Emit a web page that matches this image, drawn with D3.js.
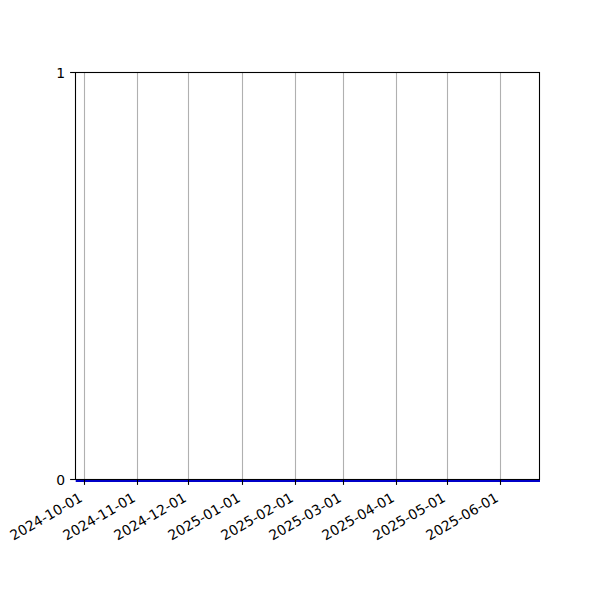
<!DOCTYPE html>
<html><head><meta charset="utf-8">
<script src="https://cdn.jsdelivr.net/npm/d3@7"></script>
<style>body{margin:0;background:#fff}svg{display:block}text{font-family:"DejaVu Sans",sans-serif}</style>
</head><body>
<svg id="c" width="600" height="600"></svg>
<script>
// data
const dates = ["2024-09-26", "2025-06-24"];
const values = [0, 0];
const xTickLabels = ["2024-10-01","2024-11-01","2024-12-01","2025-01-01","2025-02-01","2025-03-01","2025-04-01","2025-05-01","2025-06-01"];
const yTicks = [0, 1];

const parse = d3.utcParse("%Y-%m-%d");
const svg = d3.select("#c");
const L = 75, R = 540, T = 72, B = 480;
const x = d3.scaleUtc().domain([new Date(Date.UTC(2024, 8, 25, 14)), new Date(Date.UTC(2025, 5, 23, 18))]).range([L, R]);
const y = d3.scaleLinear().domain([0, 1]).range([B, T]);
const fs = 13.9;

// grid
svg.append("g").selectAll("line").data(xTickLabels).join("line")
  .attr("x1", d => Math.floor(x(parse(d))) + 0.5).attr("x2", d => Math.floor(x(parse(d))) + 0.5)
  .attr("y1", T).attr("y2", B).attr("stroke", "#b0b0b0").attr("stroke-width", 1.1);

// spines
const sp = svg.append("g").attr("stroke", "#000").attr("stroke-width", 1.1).attr("fill", "none");
sp.append("rect").attr("x", L + 0.5).attr("y", T + 0.5).attr("width", R - L - 1).attr("height", B - T - 1);

// data line
svg.append("defs").append("clipPath").attr("id", "clip").append("rect")
  .attr("x", L).attr("y", T).attr("width", R - L).attr("height", B - T + 2);
const line = d3.line().x((d, i) => x(parse(dates[i]))).y(d => y(d) + 1);
svg.append("path").datum(values).attr("d", line).attr("fill", "none")
  .attr("stroke", "#0000c8").attr("stroke-width", 2).attr("clip-path", "url(#clip)");

// x axis ticks
const xt = svg.append("g");
xTickLabels.forEach(d => {
  const px = Math.floor(x(parse(d))) + 0.5;
  xt.append("line").attr("x1", px).attr("x2", px).attr("y1", B).attr("y2", B + 4.9)
    .attr("stroke", "#000").attr("stroke-width", 1.1);
  xt.append("text").attr("transform", `translate(${px - 1},${B + 20.5}) rotate(-30)`)
    .attr("text-anchor", "end").attr("font-size", fs).attr("fill", "#000").text(d);
});

// y axis ticks
const yt = svg.append("g");
yTicks.forEach(v => {
  const py = Math.round(y(v)) + (v === 0 ? -0.5 : 0.5);
  yt.append("line").attr("x1", L - 4.9).attr("x2", L).attr("y1", py).attr("y2", py)
    .attr("stroke", "#000").attr("stroke-width", 1.1);
  yt.append("text").attr("x", L - 9.8).attr("y", py + 1).attr("dy", "0.35em")
    .attr("text-anchor", "end").attr("font-size", fs).attr("fill", "#000").text(v);
});
</script>
</body></html>
